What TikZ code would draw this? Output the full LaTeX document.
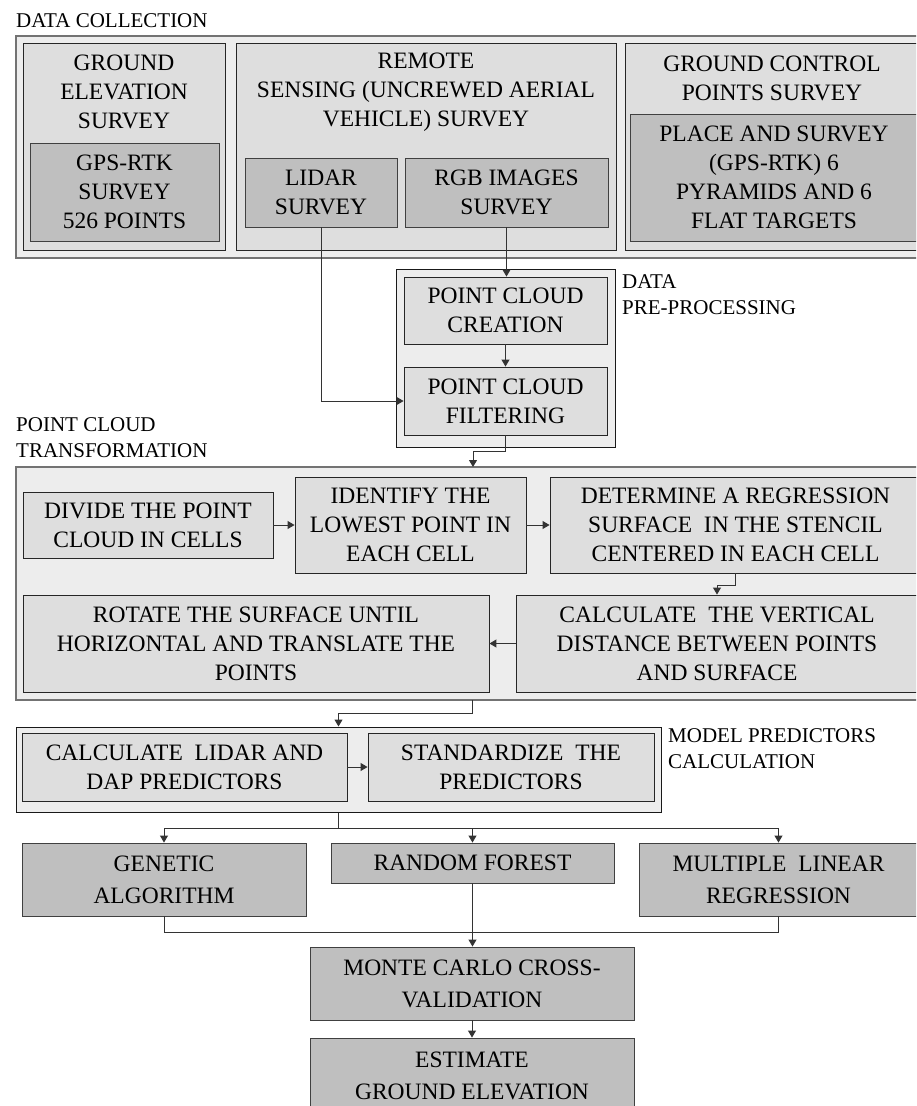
\documentclass[tikz,border=0pt]{standalone}
\usepackage{fontspec}
\setmainfont{Liberation Serif}
\usepackage{tikz}
\usetikzlibrary{arrows.meta}

\begin{document}
\begin{tikzpicture}[x=1pt,y=-1pt]
    \tikzstyle{edge}=[draw,line width=1pt,black!80,-{Triangle[length=7pt,width=8pt]}]
    \tikzstyle{link}=[draw,line width=1pt,black!80,-]
    \tikzstyle{stage}=[draw=black!55,line width=1.4pt,fill=black!7,inner sep=0pt]
    \tikzstyle{substage}=[draw=black!90,line width=1pt,fill=black!7,inner sep=0pt]
    \tikzstyle{block}=[draw=black!85,line width=.9pt,fill=black!13,inner sep=0pt,align=center,font=\fontsize{23.5}{29}\selectfont]
    \tikzstyle{task}=[draw=black!75,line width=.9pt,fill=black!25,inner sep=0pt,align=center,font=\fontsize{23.5}{29}\selectfont]
    \tikzstyle{model}=[task,font=\fontsize{23.5}{32}\selectfont]
    \tikzstyle{heading}=[inner sep=0pt,align=center,font=\fontsize{23.5}{29}\selectfont]
    \tikzstyle{phase}=[inner sep=0pt,align=left,anchor=west,font=\fontsize{21}{26}\selectfont]
    \useasboundingbox (0,0) rectangle (916,1106);
    \clip (0,0) rectangle (916,1106);

    \node[phase] (lcollect) at (16,21) {DATA COLLECTION};
    \node[stage,minimum width=914pt,minimum height=222pt] (dc) at (473,147) {};
    \node[block,minimum width=202pt,minimum height=207pt] (ge) at (124,146.5) {};
    \node[heading] (getitle) at (124,92) {GROUND\\ELEVATION\\SURVEY};
    \node[task,minimum width=189pt,minimum height=98pt] (gps) at (124.5,192) {GPS-RTK\\SURVEY\\526 POINTS};
    \node[block,minimum width=380pt,minimum height=207pt] (rs) at (426,146.5) {};
    \node[heading] (rstitle) at (426,92) {REMOTE\\SENSING (UNCREWED AERIAL\\VEHICLE) SURVEY};
    \node[task,minimum width=152pt,minimum height=69pt] (lidar) at (321,192.5) {LIDAR\\SURVEY};
    \node[task,minimum width=203pt,minimum height=69pt] (rgb) at (506.5,192.5) {RGB IMAGES\\SURVEY};
    \node[block,minimum width=301pt,minimum height=207pt] (gcp) at (775.5,146.5) {};
    \node[heading] (gcptitle) at (772,78) {GROUND CONTROL\\POINTS SURVEY};
    \node[task,minimum width=288pt,minimum height=127pt] (place) at (774,177.5) {PLACE AND SURVEY\\(GPS-RTK) 6\\PYRAMIDS AND 6\\FLAT TARGETS};

    \node[substage,minimum width=219pt,minimum height=178pt] (pp) at (505.5,358) {};
    \node[phase] (lprep) at (622,295) {DATA\\PRE-PROCESSING};
    \node[block,minimum width=203pt,minimum height=67pt] (creation) at (505.5,310.5) {POINT CLOUD\\CREATION};
    \node[block,minimum width=203pt,minimum height=68pt] (filtering) at (505.5,401) {POINT CLOUD\\FILTERING};

    \node[phase] (ltrans) at (16,437.5) {POINT CLOUD\\TRANSFORMATION};
    \node[stage,minimum width=914pt,minimum height=233pt] (tr) at (473,583.5) {};
    \node[block,minimum width=250pt,minimum height=66pt] (divide) at (148,525) {DIVIDE THE POINT\\CLOUD IN CELLS};
    \node[block,minimum width=231pt,minimum height=96pt] (identify) at (410.5,525) {IDENTIFY THE\\LOWEST POINT IN\\EACH CELL};
    \node[block,minimum width=371pt,minimum height=96pt] (determine) at (735.5,525) {DETERMINE A REGRESSION\\SURFACE\ \ IN THE STENCIL\\CENTERED IN EACH CELL};
    \node[block,minimum width=466pt,minimum height=97pt] (rotate) at (256,643.5) {ROTATE THE SURFACE UNTIL\\HORIZONTAL AND TRANSLATE THE\\POINTS};
    \node[block,minimum width=402pt,minimum height=97pt] (calcvert) at (717,643.5) {CALCULATE\ \ THE VERTICAL\\DISTANCE BETWEEN POINTS\\AND SURFACE};

    \node[substage,minimum width=645pt,minimum height=85pt] (model) at (338.5,769.5) {};
    \node[phase] (lmodel) at (668,748.5) {MODEL PREDICTORS\\CALCULATION};
    \node[block,minimum width=325pt,minimum height=68pt] (calclidar) at (184.5,767) {CALCULATE\ \ LIDAR AND\\DAP PREDICTORS};
    \node[block,minimum width=286pt,minimum height=68pt] (standard) at (511,767) {STANDARDIZE\ \ THE\\PREDICTORS};

    \node[model,minimum width=284pt,minimum height=73pt] (genetic) at (164,879.5) {GENETIC\\ALGORITHM};
    \node[model,minimum width=283pt,minimum height=40pt] (rf) at (472.5,863) {RANDOM FOREST};
    \node[model,minimum width=279pt,minimum height=73pt] (mlr) at (778.5,879.5) {MULTIPLE\ \ LINEAR\\REGRESSION};
    \node[model,minimum width=324pt,minimum height=73pt] (mc) at (472,983.5) {MONTE CARLO CROSS-\\VALIDATION};
    \node[model,minimum width=324pt,minimum height=76pt] (est) at (472,1076) {ESTIMATE\\GROUND ELEVATION};

    \draw[edge] (rgb.south) -- (rgb.south |- creation.north);
    \draw[edge] (lidar.south) |- (filtering.west);
    \draw[edge] (creation) -- (filtering);
    \coordinate (trin) at (473,467);
    \draw[edge] (filtering.south) -- ++(0,16) -| (trin);
    \draw[edge] (divide) -- (identify);
    \draw[edge] (identify) -- (determine);
    \draw[edge] (determine.south) -- ++(0,12) -| (calcvert.north);
    \draw[edge] (calcvert) -- (rotate);
    \coordinate (trout) at (472,700);
    \draw[edge] (trout) -- ++(0,13) -| (model.north);
    \draw[edge] (calclidar) -- (standard);
    \draw[link] (model.south) -- ++(0,16) coordinate (fork);
    \draw[edge] (fork) -| (genetic.north);
    \draw[edge] (fork) -| (rf.north);
    \draw[edge] (fork) -| (mlr.north);
    \draw[link] (genetic.south) -- ++(0,16) -| (mlr.south);
    \draw[edge] (rf.south) -- (rf.south |- mc.north);
    \draw[edge] (mc) -- (est);
\end{tikzpicture}
\end{document}
